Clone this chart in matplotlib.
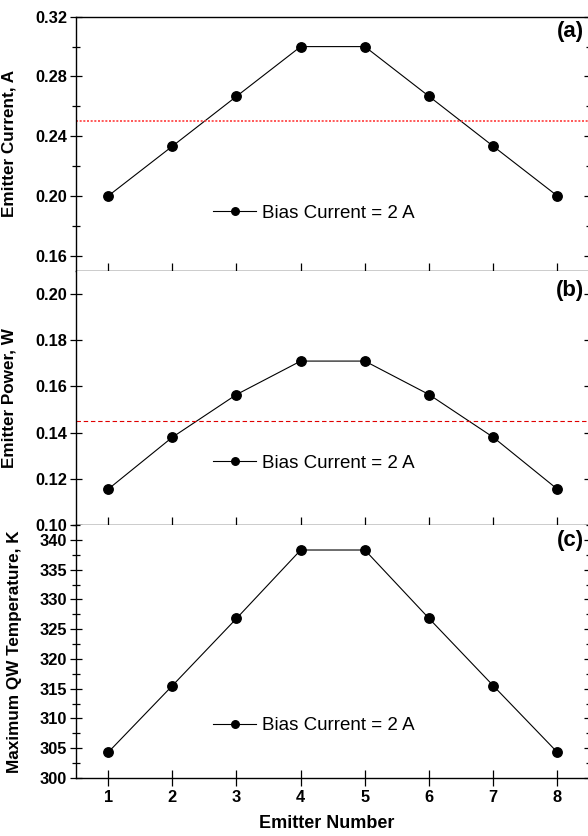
import numpy as np
import matplotlib
matplotlib.use("Agg")
import matplotlib.pyplot as plt
from matplotlib.ticker import MultipleLocator

plt.rcParams['font.family'] = ['Liberation Sans', 'DejaVu Sans']

# data
emitter = [1, 2, 3, 4, 5, 6, 7, 8]
current = [0.200, 0.2333, 0.2667, 0.300, 0.300, 0.2667, 0.2333, 0.200]
power = [0.1155, 0.138, 0.1565, 0.171, 0.171, 0.1565, 0.138, 0.1155]
temperature = [304.3, 315.5, 326.8, 338.3, 338.3, 326.8, 315.5, 304.3]
avg_current = 0.25
avg_power = 0.145
legend_label = "Bias Current = 2 A"

fig = plt.figure(figsize=(5.88, 8.36), dpi=100)
left, width = 0.1293, 0.8733
ax_a = fig.add_axes([left, 0.6762, width, 0.3038])
ax_b = fig.add_axes([left, 0.3720, width, 0.3038])
ax_c = fig.add_axes([left, 0.0694, width, 0.3026])

panels = [
    (ax_a, current, "Emitter Current, A", (0.15, 0.32), 0.04, 0.02, "(a)", 0.94, 0.227),
    (ax_b, power, "Emitter Power, W", (0.10, 0.21), 0.02, None, "(b)", 0.925, 0.244),
    (ax_c, temperature, "Maximum QW Temperature, K", (300, 342.5), 5, 2.5, "(c)", 0.94, 0.207),
]

for ax, vals, ylab, ylim, major, minor, tag, tag_y, leg_y in panels:
    ax.plot(emitter, vals, color='black', lw=0.8, marker='o', ms=6.8,
            label=legend_label)
    ax.set_xlim(0.5, 8.5)
    ax.set_ylim(*ylim)
    ax.xaxis.set_major_locator(MultipleLocator(1))
    ax.yaxis.set_major_locator(MultipleLocator(major))
    if minor:
        ax.yaxis.set_minor_locator(MultipleLocator(minor))
    ax.spines['top'].set_visible(False)
    for s in ['left', 'bottom', 'right']:
        ax.spines[s].set_linewidth(1.0)
    ax.tick_params(axis='y', which='major', direction='inout', length=9,
                   width=0.9, right=True, labelsize=11.8, pad=2)
    ax.tick_params(axis='y', which='minor', direction='inout', length=6,
                   width=0.9, right=True)
    ax.tick_params(axis='x', which='major', direction='in', length=6,
                   width=0.9, labelsize=11.8)
    for lbl in ax.get_yticklabels():
        lbl.set_fontweight('bold')
    ax.set_ylabel(ylab, fontsize=12.3, fontweight='bold')
    ax.text(0.99, tag_y, tag, transform=ax.transAxes, ha='right', va='center',
            fontsize=16, fontweight='bold')
    ax.legend(loc='center left', bbox_to_anchor=(0.267, leg_y), frameon=False,
              fontsize=13.5, handlelength=2.3, handletextpad=0.3,
              borderpad=0, borderaxespad=0, markerscale=0.8)

ax_a.spines['top'].set_visible(True)
ax_a.spines['top'].set_linewidth(1.0)

ax_a.yaxis.set_label_coords(-0.115, 0.5)
ax_b.yaxis.set_label_coords(-0.115, 0.5)
ax_c.yaxis.set_label_coords(-0.105, 0.5)

ax_a.tick_params(axis='x', labelbottom=False)
ax_b.tick_params(axis='x', labelbottom=False)
ax_c.tick_params(axis='x', which='major', direction='inout', length=11, pad=3)
for lbl in ax_c.get_xticklabels():
    lbl.set_fontweight('bold')
ax_c.set_xlabel("Emitter Number", fontsize=13, fontweight='bold')
ax_c.xaxis.set_label_coords(0.488, -0.148)

ax_a.axhline(avg_current, color='#ff3b3b', lw=1.2, ls=(0, (1.2, 1.0)))
ax_b.axhline(avg_power, color='#e00000', lw=0.8, ls=(0, (4, 2.5)))

fig.savefig("out.png", dpi=100)
